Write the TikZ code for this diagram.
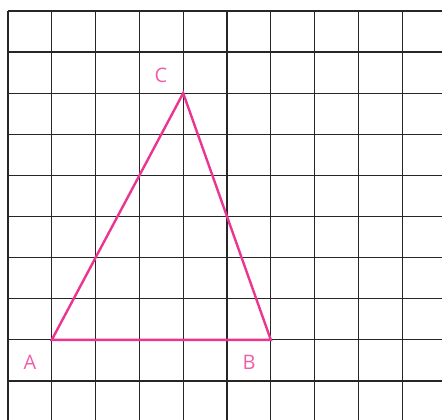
\documentclass[tikz,border=0pt]{standalone}
\usepackage{fontspec}
\setsansfont{Open Sans}
\definecolor{tri}{HTML}{EC3590}
\definecolor{lbl}{HTML}{EE5FA8}
\begin{document}
\begin{tikzpicture}[x=1pt,y=-1pt,
  gridline/.style={line width=1.2pt,draw=black!85},
  triline/.style={line width=2.4pt,draw=tri,line join=miter},
  vlabel/.style={text=lbl,font=\sffamily\fontsize{20}{20}\selectfont,inner sep=0pt}]
\useasboundingbox (0,0) rectangle (442,420);
\foreach \k in {0,...,9} {
  \draw[gridline] (8+43.8*\k,11) -- (8+43.8*\k,420);
  \draw[gridline] (8,11+41.1*\k) -- (442,11+41.1*\k);
}
\coordinate (A) at (51.8,339.8);
\coordinate (B) at (270.8,339.8);
\coordinate (C) at (183.2,93.2);
\draw[triline] (A) -- (B) -- (C) -- cycle;
\node[vlabel] (la) at (30,362) {A};
\node[vlabel] (lb) at (249,362) {B};
\node[vlabel] (lc) at (161,75) {C};
\end{tikzpicture}
\end{document}
